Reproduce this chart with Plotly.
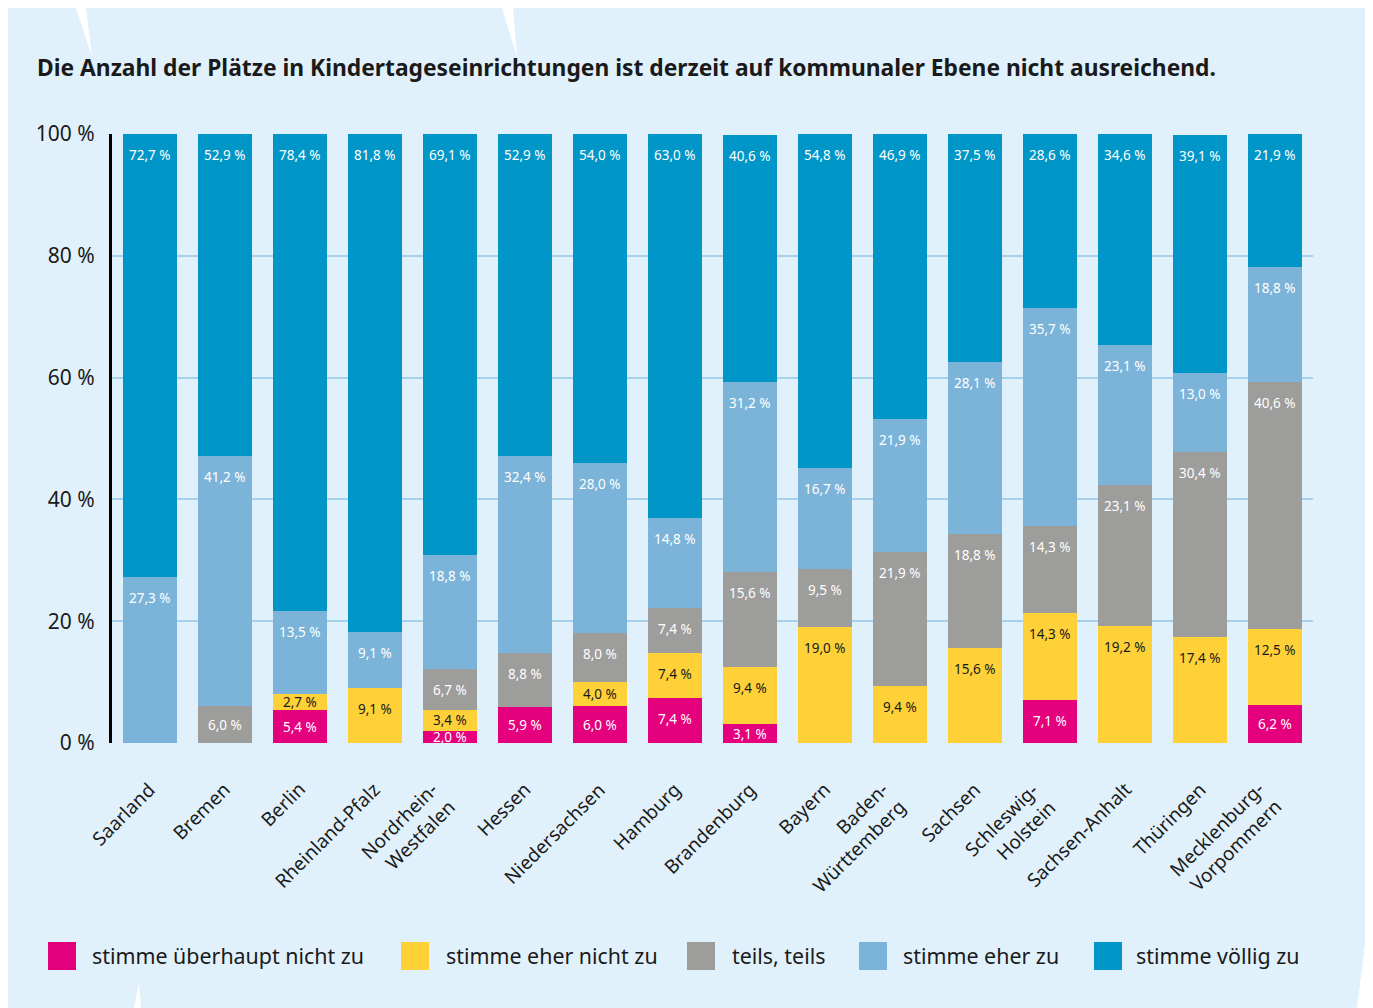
import plotly.graph_objects as go

# ---------------- data ----------------
states = ["Saarland", "Bremen", "Berlin", "Rheinland-Pfalz", "Nordrhein-<br>Westfalen",
          "Hessen", "Niedersachsen", "Hamburg", "Brandenburg", "Bayern",
          "Baden-<br>Württemberg", "Sachsen", "Schleswig-<br>Holstein", "Sachsen-Anhalt",
          "Thüringen", "Mecklenburg-<br>Vorpommern"]

series_names = ["stimme überhaupt nicht zu", "stimme eher nicht zu", "teils, teils",
                "stimme eher zu", "stimme völlig zu"]

ueberhaupt_nicht = [0, 0, 5.4, 0, 2.0, 5.9, 6.0, 7.4, 3.1, 0, 0, 0, 7.1, 0, 0, 6.2]
eher_nicht = [0, 0, 2.7, 9.1, 3.4, 0, 4.0, 7.4, 9.4, 19.0, 9.4, 15.6, 14.3, 19.2, 17.4, 12.5]
teils = [0, 6.0, 0, 0, 6.7, 8.8, 8.0, 7.4, 15.6, 9.5, 21.9, 18.8, 14.3, 23.1, 30.4, 40.6]
eher_zu = [27.3, 41.2, 13.5, 9.1, 18.8, 32.4, 28.0, 14.8, 31.2, 16.7, 21.9, 28.1, 35.7, 23.1, 13.0, 18.8]
voellig_zu = [72.7, 52.9, 78.4, 81.8, 69.1, 52.9, 54.0, 63.0, 40.6, 54.8, 46.9, 37.5, 28.6, 34.6, 39.1, 21.9]

y_ticks = [0, 20, 40, 60, 80, 100]
y_tick_labels = ["0 %", "20 %", "40 %", "60 %", "80 %", "100 %"]

title_text = "Die Anzahl der Plätze in Kindertageseinrichtungen ist derzeit auf kommunaler Ebene nicht ausreichend."

# ---------------- style ----------------
colors = ["#e5007d", "#fdd137", "#9d9d9c", "#7bb4d8", "#0096c7"]
text_colors = ["white", "#1a1a1a", "white", "white", "white"]
BG = "#e1f1fb"
GRID = "#a6d0ec"
FONT = "Noto Sans"

W, H = 1360, 1000
ML, MR, MT, MB = 104, 55, 126, 265
PW, PH = W - ML - MR, H - MT - MB


def px(x):
    return (x - ML) / PW


def py(y):
    return (H - MB - y) / PH


series = [ueberhaupt_nicht, eher_nicht, teils, eher_zu, voellig_zu]

fig = go.Figure()
for name, vals, col in zip(series_names, series, colors):
    fig.add_trace(go.Bar(x=states, y=vals, name=name, marker=dict(color=col, line=dict(width=0)),
                         showlegend=False, hoverinfo="skip"))

# in-bar value labels
annotations = []
cum = [0.0] * len(states)
px_per_unit = PH / 100.0
for vals, tcol in zip(series, text_colors):
    for i, v in enumerate(vals):
        top = cum[i] + v
        if v > 0:
            shift = -min(21.0, v * px_per_unit / 2.0)
            annotations.append(dict(x=states[i], y=min(top, 100.0), xref="x", yref="y", yshift=shift,
                                    text=f"{v:.1f}".replace(".", ",") + " %", showarrow=False,
                                    font=dict(family=FONT, size=13.5, color=tcol),
                                    xanchor="center", yanchor="middle"))
        cum[i] = top

# rotated category labels (right-aligned multi-line, anchored at the category)
for s in states:
    annotations.append(dict(x=s, y=0, xref="x", yref="y", text=s, textangle=-45, align="right",
                            showarrow=False, xanchor="right", yanchor="top", xshift=14, yshift=-31,
                            font=dict(family=FONT, size=19, color="#1a1a1a")))

# title
annotations.append(dict(x=px(27), y=py(60), xref="paper", yref="paper", text="<b>" + title_text + "</b>",
                        showarrow=False, xanchor="left", yanchor="middle",
                        font=dict(family=FONT, size=22.8, color="#1a1a1a")))

# legend (manual)
shapes = []
leg_sq_x = [40, 393, 679, 851, 1086]
leg_txt_x = [82, 436, 722, 893, 1126]
for name, col, sx, tx in zip(series_names, colors, leg_sq_x, leg_txt_x):
    shapes.append(dict(type="rect", xref="paper", yref="paper", x0=px(sx), x1=px(sx + 28),
                       y0=py(962), y1=py(934), fillcolor=col, line=dict(width=0)))
    annotations.append(dict(x=px(tx), y=py(948), xref="paper", yref="paper", text=name,
                            showarrow=False, xanchor="left", yanchor="middle",
                            font=dict(family=FONT, size=21.4, color="#1a1a1a")))

# decorative white wedges in the background
wedges = [[(68, 0), (78, 0), (84, 49)], [(494, 0), (505, 0), (509, 49)],
          [(126, 1000), (133, 1000), (131, 975)], [(1349, 1000), (1359, 1000), (1359, 920)]]
for w in wedges:
    path = "M " + " L ".join(f"{px(a)},{py(b)}" for a, b in w) + " Z"
    shapes.append(dict(type="path", xref="paper", yref="paper", path=path, fillcolor="white",
                       line=dict(width=0), layer="below"))

fig.update_layout(
    width=W, height=H,
    margin=dict(l=ML, r=MR, t=MT, b=MB, pad=0),
    paper_bgcolor=BG, plot_bgcolor=BG,
    barmode="stack", bargap=0.28,
    font=dict(family=FONT, color="#1a1a1a"),
    annotations=annotations, shapes=shapes,
    xaxis=dict(range=[-0.5, len(states) - 0.5], autorange=False, showticklabels=False,
               showgrid=False, showline=False, zeroline=False, ticks=""),
    yaxis=dict(range=[0, 100], autorange=False, tickmode="array", tickvals=y_ticks, ticktext=y_tick_labels,
               tickfont=dict(size=21, family=FONT, color="#1a1a1a"),
               showgrid=True, gridcolor=GRID, gridwidth=2, zeroline=False,
               showline=True, linecolor="black", linewidth=3, ticks="", ticklabelstandoff=10),
)

fig.write_html("out.html")
